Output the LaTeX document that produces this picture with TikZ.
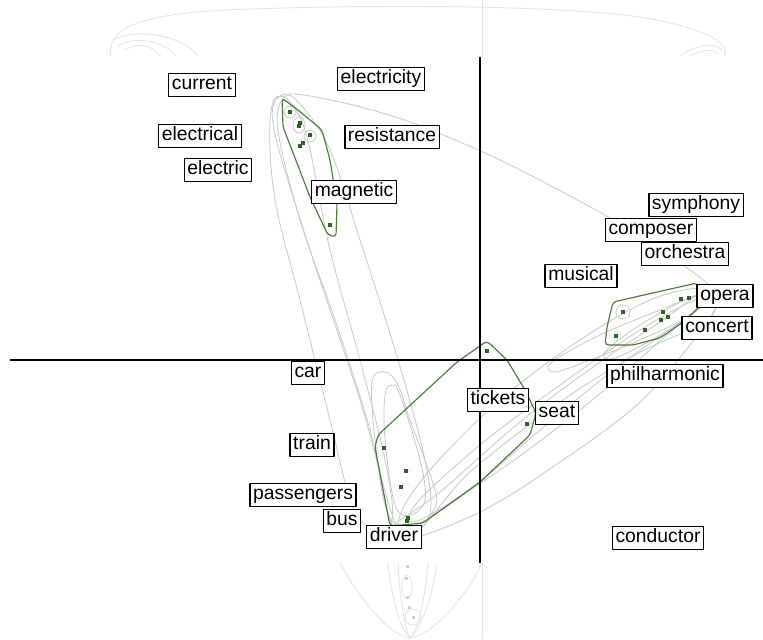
\documentclass[tikz,border=0pt]{standalone}
\usepackage{fontspec}
\setmainfont{Liberation Sans}

\definecolor{hullgreen}{RGB}{70,125,55}
\definecolor{dotgreen}{RGB}{45,100,40}
\definecolor{hullgrey}{RGB}{200,200,200}
\definecolor{ghostgrey}{RGB}{228,228,228}
\definecolor{ghostdot}{RGB}{205,205,230}

\begin{document}
\begin{tikzpicture}[x=0.02cm,y=-0.02cm,line join=round]
  \tikzstyle{word}=[draw=black,fill=white,line width=0.8pt,
                    font=\fontsize{11}{12}\selectfont,inner xsep=1.8pt,
                    inner ysep=1.3pt,text height=8pt,text depth=2.4pt]
  \tikzstyle{dot}=[fill=dotgreen,inner sep=0pt,minimum size=0.075cm]
  \tikzstyle{ghost}=[draw=ghostgrey,line width=0.5pt]
  \tikzstyle{greyhull}=[draw=hullgrey,line width=0.45pt]
  \tikzstyle{greenhull}=[draw=hullgreen,line width=0.65pt,rounded corners=2pt]

  \useasboundingbox (0,0) rectangle (763,639);

  % faint view behind the plot
  \draw[ghost] (482,0) -- (482,639);
  \draw[ghost] (111,56) .. controls (105,25) and (150,12) .. (250,9)
               .. controls (400,4) and (560,6) .. (640,17)
               .. controls (700,27) and (732,42) .. (724,56);
  \draw[ghost] (113,40) .. controls (140,25) and (190,40) .. (197,56);
  \draw[ghost] (118,46) .. controls (140,33) and (168,45) .. (176,56);
  \draw[ghost] (125,50) .. controls (140,40) and (155,48) .. (160,56);
  \draw[ghost] (680,56) .. controls (695,45) and (715,42) .. (722,50);
  \draw[ghost] (690,56) .. controls (700,50) and (712,48) .. (718,54);
  \draw[ghost] (340,563) .. controls (360,600) and (390,636) .. (410,638)
               .. controls (430,636) and (465,600) .. (482,563);
  \draw[ghost] (388,563) .. controls (392,600) and (400,630) .. (410,638);
  \draw[ghost] (398,563) .. controls (400,600) and (405,630) .. (410,638);
  \draw[ghost] (428,563) .. controls (425,600) and (418,630) .. (410,638);
  \draw[ghost] (437,563) .. controls (432,600) and (420,630) .. (410,638);
  \draw[ghost] (407,587) ellipse [x radius=5,y radius=12];
  \draw[ghost] (413,617) circle [radius=8];
  \foreach \gx/\gy in {407/566,406/578,407/597,409/607,413/617}
    \fill[ghostdot] (\gx-1.5,\gy-1.5) rectangle (\gx+1.5,\gy+1.5);
  \fill[white] (0,56) rectangle (763,563);

  % grey hulls
  \draw[greyhull] plot[smooth cycle,tension=0.6] coordinates {(281,96) (270,120)
    (275,200) (300,300) (330,420) (352,505) (372,528) (392,520) (385,460)
    (360,360) (330,250) (305,130)};
  \draw[greyhull] plot[smooth cycle,tension=0.6] coordinates {(284,97) (300,104)
    (330,150) (360,240) (398,360) (425,460) (430,515) (410,532) (390,520)
    (370,430) (335,320) (300,220) (278,130)};
  \draw[greyhull] plot[smooth cycle,tension=0.5] coordinates {(282,95) (340,102)
    (410,122) (500,160) (610,218) (690,270) (716,295) (705,322) (640,352)
    (560,402) (470,472) (420,528) (395,522) (360,400) (310,250) (274,130)};
  \draw[greyhull] plot[smooth cycle,tension=0.6] coordinates {(410,528) (470,490)
    (540,430) (620,365) (690,315) (712,296) (700,288) (650,300) (580,340)
    (500,400) (430,470) (400,515)};
  \draw[greyhull] plot[smooth cycle,tension=0.6] coordinates {(400,542) (480,512)
    (560,462) (640,402) (700,332) (719,300) (706,290) (660,322) (600,362)
    (520,422) (440,492) (394,526)};
  \draw[greyhull] plot[smooth cycle,tension=0.6] coordinates {(420,520) (500,470)
    (580,410) (650,350) (700,305) (695,300) (640,330) (560,385) (480,445)
    (415,505)};
  \draw[greyhull] plot[smooth cycle,tension=0.6] coordinates {(372,382) (385,372)
    (398,385) (410,420) (432,480) (436,505) (420,525) (400,528) (385,505)
    (375,440)};
  \draw[greyhull] plot[smooth cycle,tension=0.6] coordinates {(385,395) (392,385)
    (400,395) (420,460) (425,500) (410,515) (395,505) (385,440)};
  \draw[greyhull] plot[smooth cycle,tension=0.6] coordinates {(552,362) (600,335)
    (660,310) (700,295) (690,315) (640,340) (590,360) (555,372)};
  \draw[greyhull] plot[smooth cycle,tension=0.6] coordinates {(605,352) (640,325)
    (685,300) (704,296) (695,312) (655,338) (615,358)};
  \draw[greyhull] (290,112) circle [radius=6];
  \draw[greyhull] (299,125) ellipse [x radius=6,y radius=8];
  \draw[greyhull] (310,136) circle [radius=6];
  \draw[greyhull] (623,312) circle [radius=7];

  % green hulls
  \draw[greenhull] (282,98) -- (298,110) -- (322,130) -- (330,160) -- (337,203)
    -- (336,237) -- (328,235) -- (310,197) -- (297,163) -- (283,127) -- cycle;
  \draw[greenhull] (613,302) -- (697,283) -- (707,300) -- (683,322) -- (660,338)
    -- (633,345) -- (605,345) -- (607,327) -- cycle;
  \draw[greenhull] (487,341) -- (507,360) -- (525,390) -- (536,413) -- (530,435)
    -- (480,482) -- (423,523) -- (390,526) -- (375,447) -- (378,435)
    -- (457,362) -- cycle;

  % points
  \foreach \px/\py [count=\i] in {290/112,300/123,299/126,310/135,303/143,
      300/146,330/225,623/312,616/336,645/330,661/320,663/312,668/317,
      681/299,689/298,487/351,527/424,384/448,406/471,401/487,408/518,407/521}
    \node[dot] (p\i) at (\px,\py) {};

  % axes
  \draw[line width=1pt] (10,360) -- (763,360);
  \draw[line width=1pt] (480,57) -- (480,563);

  % words
  \node[word] (current)      at (202,85)  {current};
  \node[word] (electricity)  at (381,79)  {electricity};
  \node[word] (electrical)   at (200,136) {electrical};
  \node[word] (resistance)   at (392,137) {resistance};
  \node[word] (electric)     at (218,170) {electric};
  \node[word] (magnetic)     at (354,192) {magnetic};
  \node[word] (symphony)     at (696,205) {symphony};
  \node[word] (composer)     at (651,230) {composer};
  \node[word] (orchestra)    at (685,254) {orchestra};
  \node[word] (musical)      at (581,276) {musical};
  \node[word] (opera)        at (725,296) {opera};
  \node[word] (concert)      at (717,328) {concert};
  \node[word] (philharmonic) at (665,376) {philharmonic};
  \node[word] (car)          at (308,373) {car};
  \node[word] (tickets)      at (498,400) {tickets};
  \node[word] (seat)         at (557,413) {seat};
  \node[word] (train)        at (312,445) {train};
  \node[word] (passengers)   at (303,495) {passengers};
  \node[word] (bus)          at (342,521) {bus};
  \node[word] (driver)       at (394,537) {driver};
  \node[word] (conductor)    at (658,538) {conductor};
\end{tikzpicture}
\end{document}
